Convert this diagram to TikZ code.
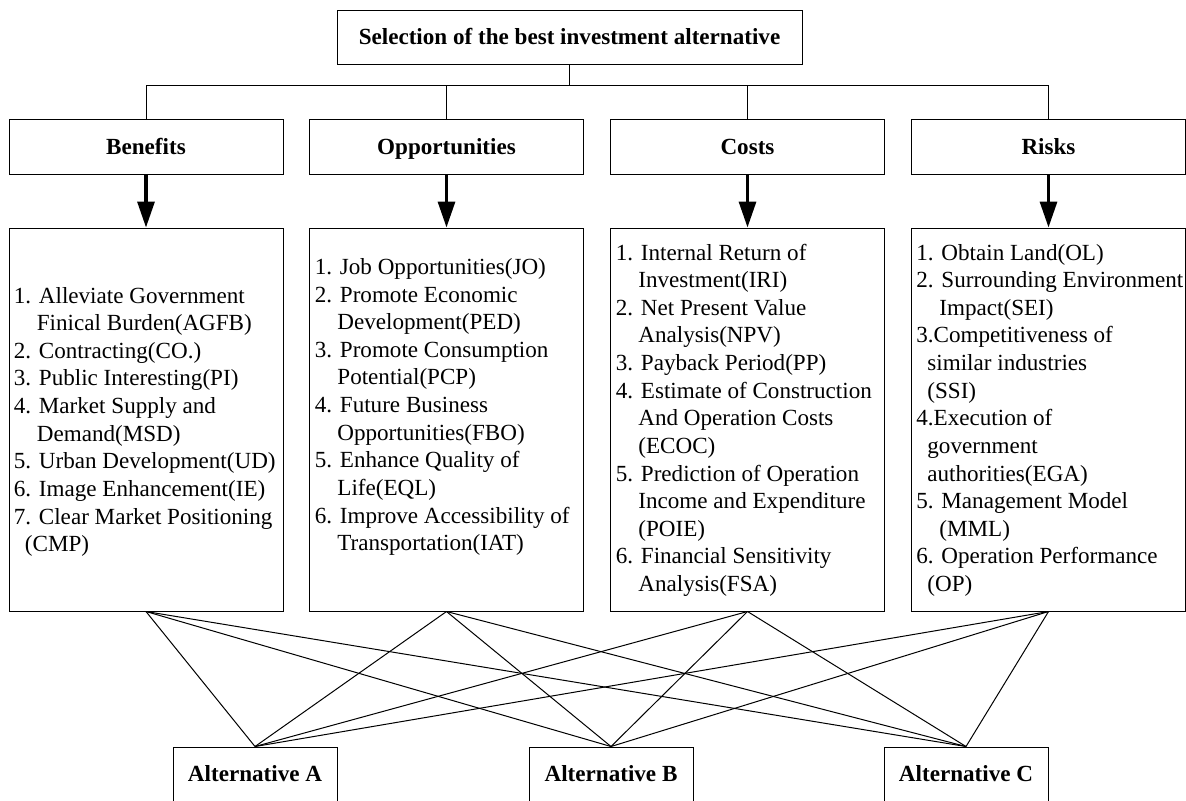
\documentclass[tikz,border=0pt]{standalone}
\usepackage{fontspec}
\setmainfont{Liberation Serif}
\usetikzlibrary{arrows.meta}
\begin{document}
\begin{tikzpicture}[x=0.5pt,y=-0.5pt,
  box/.style={draw=black,line width=0.5pt,rectangle,inner sep=0pt},
  hdr/.style={box,font=\fontsize{11.55pt}{13.8pt}\selectfont\bfseries,text height=7.65pt,text depth=0pt},
  alttext/.style={font=\fontsize{11.55pt}{13.8pt}\selectfont\bfseries,inner sep=0pt,anchor=base},
  itm/.style={font=\fontsize{11.55pt}{13.8pt}\selectfont,inner sep=0pt,anchor=base west},
  link/.style={line width=0.5pt},
  bigarrow/.style={line width=1.6pt,-{Triangle[length=13pt,width=8.5pt]}}]
\clip (0,0) rectangle (1186,800);

% top box
\node[hdr,minimum width=232.5pt,minimum height=27pt] (top) at (569.5,37) {Selection of the best investment alternative};

% headers
\node[hdr,minimum width=137pt,minimum height=27.5pt] (benh) at (146,146.5) {Benefits};
\node[hdr,minimum width=137pt,minimum height=27.5pt] (opph) at (446.5,146.5) {Opportunities};
\node[hdr,minimum width=137pt,minimum height=27.5pt] (costh) at (747.5,146.5) {Costs};
\node[hdr,minimum width=137pt,minimum height=27.5pt] (riskh) at (1048.5,146.5) {Risks};

% item boxes
\node[box,minimum width=137pt,minimum height=191.5pt] (benb) at (146,419.5) {};
\node[box,minimum width=137pt,minimum height=191.5pt] (oppb) at (446.5,419.5) {};
\node[box,minimum width=137pt,minimum height=191.5pt] (costb) at (747.5,419.5) {};
\node[box,minimum width=137pt,minimum height=191.5pt] (riskb) at (1048.5,419.5) {};

% alternatives
\node[box,minimum width=82pt,minimum height=41.5pt] (altA) at (255,788.5) {};
\node[box,minimum width=82pt,minimum height=41.5pt] (altB) at (611,788.5) {};
\node[box,minimum width=82pt,minimum height=41.5pt] (altC) at (966,788.5) {};
\node[alttext] (altAt) at (255,781) {Alternative A};
\node[alttext] (altBt) at (611,781) {Alternative B};
\node[alttext] (altCt) at (966,781) {Alternative C};

% tree connectors
\draw[line width=0.8pt] (top.south) -- ++(0,21) coordinate (j);
\draw[link] (benh.north) -- (benh.north |- j) -- (riskh.north |- j) -- (riskh.north);
\draw[link] (opph.north) -- (opph.north |- j);
\draw[link] (costh.north) -- (costh.north |- j);

% arrows
\draw[bigarrow] (benh.south) -- (benb.north);
\draw[bigarrow] (opph.south) -- (oppb.north);
\draw[bigarrow] (costh.south) -- (costb.north);
\draw[bigarrow] (riskh.south) -- (riskb.north);

% criteria to alternatives
\foreach \c in {benb,oppb,costb,riskb}
  \foreach \a in {altA,altB,altC}
    \draw[link] (\c.south) -- (\a.north);

% Benefits items
\foreach \dx/\txt [count=\i from 0] in {
  4.5/{1. Alleviate Government},
  27.5/{Finical Burden(AGFB)},
  4.5/{2. Contracting(CO.)},
  4.5/{3. Public Interesting(PI)},
  4.5/{4. Market Supply and},
  27.5/{Demand(MSD)},
  4.5/{5. Urban Development(UD)},
  4.5/{6. Image Enhancement(IE)},
  4.5/{7. Clear Market Positioning},
  15.5/{(CMP)}}
  \node[itm] (ben\i) at (9+\dx,303+27.63*\i) {\txt};

% Opportunities items
\foreach \dx/\txt [count=\i from 0] in {
  5/{1. Job Opportunities(JO)},
  5/{2. Promote Economic},
  27.5/{Development(PED)},
  5/{3. Promote Consumption},
  27.5/{Potential(PCP)},
  5/{4. Future Business},
  27.5/{Opportunities(FBO)},
  5/{5. Enhance Quality of},
  27.5/{Life(EQL)},
  5/{6. Improve Accessibility of},
  27.5/{Transportation(IAT)}}
  \node[itm] (opp\i) at (309.5+\dx,274.4+27.63*\i) {\txt};

% Costs items
\foreach \dx/\txt [count=\i from 0] in {
  5/{1. Internal Return of},
  27.5/{Investment(IRI)},
  5/{2. Net Present Value},
  27.5/{Analysis(NPV)},
  5/{3. Payback Period(PP)},
  5/{4. Estimate of Construction},
  27.5/{And Operation Costs},
  27.5/{(ECOC)},
  5/{5. Prediction of Operation},
  27.5/{Income and Expenditure},
  27.5/{(POIE)},
  5/{6. Financial Sensitivity},
  27.5/{Analysis(FSA)}}
  \node[itm] (cost\i) at (610.5+\dx,260+27.63*\i) {\txt};

% Risks items
\foreach \dx/\txt [count=\i from 0] in {
  4.5/{1. Obtain Land(OL)},
  4.5/{2. Surrounding Environment},
  27.5/{Impact(SEI)},
  4.5/{3.Competitiveness of},
  15.5/{similar industries},
  15.5/{(SSI)},
  4.5/{4.Execution of},
  15.5/{government},
  15.5/{authorities(EGA)},
  4.5/{5. Management Model},
  27.5/{(MML)},
  4.5/{6. Operation Performance},
  15.5/{(OP)}}
  \node[itm] (risk\i) at (911.5+\dx,260+27.63*\i) {\txt};
\end{tikzpicture}
\end{document}
